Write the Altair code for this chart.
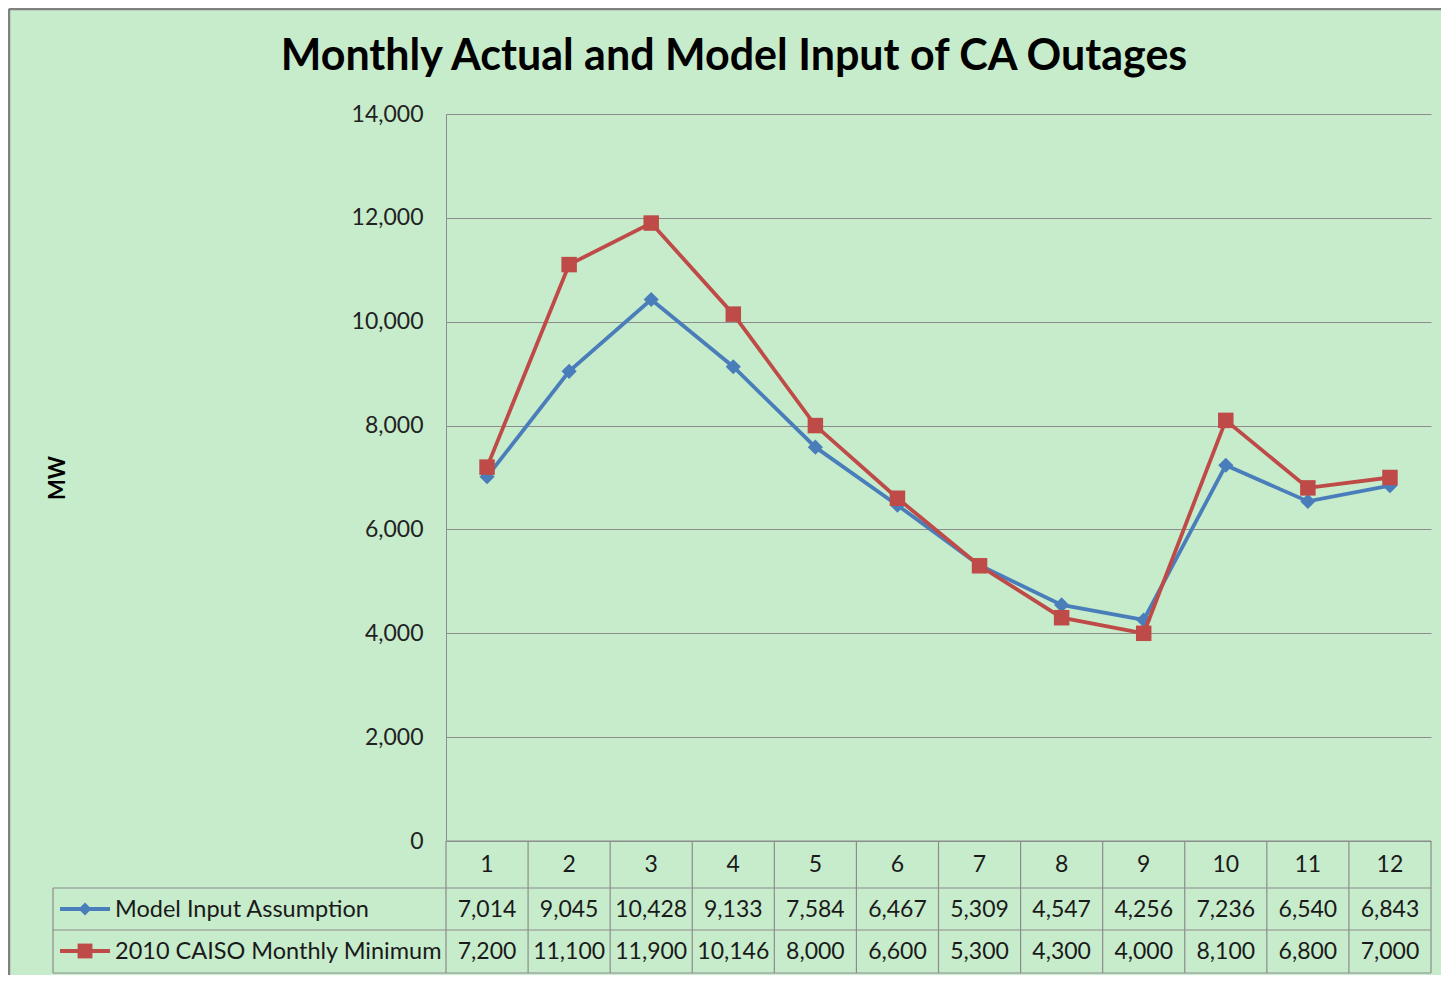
import altair as alt
import pandas as pd

months = [1, 2, 3, 4, 5, 6, 7, 8, 9, 10, 11, 12]
model_input = [7014, 9045, 10428, 9133, 7584, 6467, 5309, 4547, 4256, 7236, 6540, 6843]
caiso_min = [7200, 11100, 11900, 10146, 8000, 6600, 5300, 4300, 4000, 8100, 6800, 7000]
series_names = ["Model Input Assumption", "2010 CAISO Monthly Minimum"]
series_colors = ["#4A7EBB", "#BE4B48"]
y_ticks = [0, 2000, 4000, 6000, 8000, 10000, 12000, 14000]
title_text = "Monthly Actual and Model Input of CA Outages"
y_title = "MW"

FONT = "Lato"
BG = "#C7ECCB"
GRID = "#8C8C8C"
W, H = 985, 727
ROW1, ROW2, ROW3 = 774, 816, 859
TLEFT = -393

df = pd.DataFrame({
    "month": months * 2,
    "series": [series_names[0]] * 12 + [series_names[1]] * 12,
    "value": model_input + caiso_min,
})
mdf = pd.DataFrame({"month": months})
one = pd.DataFrame({"a": [0]})

xs = alt.Scale(domain=[0.5, 12.5], nice=False, zero=False)
ys = alt.Scale(domain=[0, 14000], nice=False)
cs = alt.Scale(domain=series_names, range=series_colors)

X = alt.X("month:Q", scale=xs, axis=None)

base_line = alt.Chart(df).encode(
    x=X,
    y=alt.Y("value:Q", scale=ys, axis=alt.Axis(
        values=y_ticks, format=",d", title=None, ticks=False, domain=True,
        domainColor=GRID, gridColor=GRID, gridWidth=1, labelFont=FONT,
        labelFontSize=23, labelColor="#222222", labelPadding=23)),
    color=alt.Color("series:N", scale=cs, legend=None),
)

blue = base_line.transform_filter(alt.datum.series == series_names[0])
red = base_line.transform_filter(alt.datum.series == series_names[1])

blue_line = blue.mark_line(strokeWidth=3.8)
blue_pts = blue.mark_point(shape="diamond", filled=True, size=230, opacity=1)
red_line = red.mark_line(strokeWidth=3.8)
red_pts = red.mark_point(shape="square", filled=True, size=240, opacity=1)

# table grid
vlines = alt.Chart(mdf).transform_calculate(b="datum.month - 0.5").mark_rule(
    color=GRID, strokeWidth=1.2).encode(
    x=alt.X("b:Q", scale=xs, axis=None), y=alt.value(H), y2=alt.value(ROW3))
vlast = alt.Chart(one).mark_rule(color=GRID, strokeWidth=1.2).encode(
    x=alt.value(W), y=alt.value(H), y2=alt.value(ROW3))
vleft = alt.Chart(one).mark_rule(color=GRID, strokeWidth=1.2).encode(
    x=alt.value(TLEFT), y=alt.value(ROW1), y2=alt.value(ROW3))
htop = alt.Chart(one).mark_rule(color=GRID, strokeWidth=1.2).encode(
    x=alt.value(0), x2=alt.value(W), y=alt.value(H))
hrows = [
    alt.Chart(one).mark_rule(color=GRID, strokeWidth=1.2).encode(
        x=alt.value(TLEFT), x2=alt.value(W), y=alt.value(yy))
    for yy in (ROW1, ROW2, ROW3)
]

txt = dict(font=FONT, fontSize=23, color="#1a1a1a", baseline="middle", align="center")
hdr = alt.Chart(mdf).mark_text(**txt).encode(
    x=alt.X("month:Q", scale=xs, axis=None), y=alt.value(751), text="month:Q")
row_a = alt.Chart(df).transform_filter(alt.datum.series == series_names[0]).mark_text(**txt).encode(
    x=X, y=alt.value(796), text=alt.Text("value:Q", format=",d"))
row_b = alt.Chart(df).transform_filter(alt.datum.series == series_names[1]).mark_text(**txt).encode(
    x=X, y=alt.value(838), text=alt.Text("value:Q", format=",d"))

# legend column
leg = []
for i, (name, col, shp, sz) in enumerate(zip(series_names, series_colors,
                                             ["diamond", "square"], [170, 220])):
    yy = 795 if i == 0 else 837
    leg.append(alt.Chart(one).mark_rule(color=col, strokeWidth=3.8).encode(
        x=alt.value(-386), x2=alt.value(-336), y=alt.value(yy)))
    leg.append(alt.Chart(one).mark_point(shape=shp, filled=True, size=sz, color=col, opacity=1).encode(
        x=alt.value(-361), y=alt.value(yy)))
    leg.append(alt.Chart(pd.DataFrame({"t": [name]})).mark_text(
        font=FONT, fontSize=23.5, color="#1a1a1a", baseline="middle", align="left").encode(
        x=alt.value(-331), y=alt.value(yy + 1), text="t:N"))

title = alt.Chart(pd.DataFrame({"t": [title_text]})).mark_text(
    font=FONT, fontSize=43, fontWeight="bold", color="#000000", baseline="middle", align="center").encode(
    x=alt.value(288), y=alt.value(-57), text="t:N")
ytitle = alt.Chart(pd.DataFrame({"t": [y_title]})).mark_text(
    font=FONT, fontSize=22, fontWeight="bold", color="#000000", baseline="middle", align="center",
    angle=270).encode(x=alt.value(-388), y=alt.value(364), text="t:N")

border = [
    alt.Chart(one).mark_rule(color="#808080", strokeWidth=2.5).encode(
        x=alt.value(-437), x2=alt.value(1010), y=alt.value(-105)),
    alt.Chart(one).mark_rule(color="#808080", strokeWidth=2.5).encode(
        x=alt.value(-437), y=alt.value(-105), y2=alt.value(880)),
]

chart = alt.layer(
    blue_line, blue_pts, red_line, red_pts,
    vlines, vlast, vleft, htop, *hrows, hdr, row_a, row_b, *leg, title, ytitle, *border,
).properties(
    width=W, height=H,
    autosize=alt.AutoSizeParams(type="none"),
    padding={"left": 438, "top": 106, "right": 10, "bottom": 134},
    background=BG,
).configure_view(stroke=None)

chart.save("out.html", embed_options={"renderer": "svg", "actions": False})
